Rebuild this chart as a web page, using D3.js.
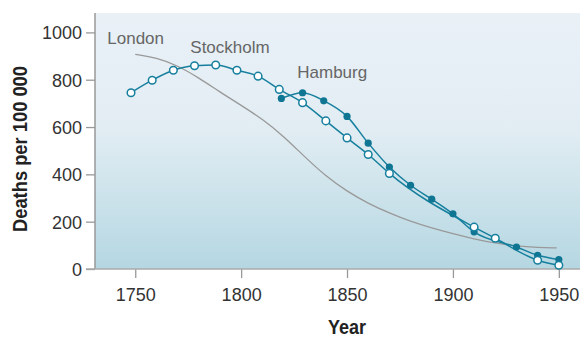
<!DOCTYPE html>
<html>
<head>
<meta charset="utf-8">
<script src="https://d3js.org/d3.v7.min.js"></script>
<style>
  body { margin: 0; background: #fff; }
  svg text { font-family: "Liberation Sans", Arial, sans-serif; }
  .tick text { font-size: 18px; fill: #333; }
  .title { font-weight: bold; fill: #222; }
  .city { font-size: 17px; fill: #666; }
</style>
</head>
<body>
<svg class="chart" width="582" height="338"></svg>
<script>
// Stockholm (open circles)
var stockholmYears = [1748, 1758, 1768, 1778, 1788, 1798, 1808, 1818, 1829, 1840, 1850, 1860, 1870, 1910, 1920, 1940, 1950];
var stockholmDeaths = [745, 798, 840, 859, 862, 840, 815, 759, 703, 626, 554, 484, 404, 177, 130, 37, 16];

// Hamburg (filled dots)
var hamburgYears = [1819, 1829, 1839, 1850, 1860, 1870, 1880, 1890, 1900, 1910, 1930, 1940, 1950];
var hamburgDeaths = [721, 745, 711, 645, 532, 431, 354, 295, 233, 157, 93, 58, 40];

// London (smooth grey curve)
var londonYears = [1750, 1760, 1770, 1780, 1790, 1800, 1810, 1820, 1830, 1840, 1850, 1860, 1870, 1880, 1890, 1900, 1910, 1920, 1930, 1940, 1949];
var londonDeaths = [907, 893, 860, 808, 748, 692, 634, 562, 474, 392, 328, 277, 236, 201, 173, 149, 127, 109, 97, 91, 89];

var xTicks = [1750, 1800, 1850, 1900, 1950];
var yTicks = [0, 200, 400, 600, 800, 1000];

var margin = {top: 13, right: 2, bottom: 69, left: 95},
    width = 582 - margin.left - margin.right,
    height = 338 - margin.top - margin.bottom;

var x = d3.scaleLinear().domain([1731, 1960]).range([0, width]);
var y = d3.scaleLinear().domain([0, 1082]).range([height, 0]);

var svg = d3.select("svg")
  .append("g")
    .attr("transform", "translate(" + margin.left + "," + margin.top + ")");

// background gradient
var grad = d3.select("svg").append("defs").append("linearGradient")
    .attr("id", "bg").attr("x1", 0).attr("y1", 0).attr("x2", 0).attr("y2", 1);
grad.append("stop").attr("offset", "0%").attr("stop-color", "#e9f1f7");
grad.append("stop").attr("offset", "45%").attr("stop-color", "#e2edf3");
grad.append("stop").attr("offset", "100%").attr("stop-color", "#b5d7e2");

svg.append("rect")
    .attr("width", width).attr("height", height)
    .attr("fill", "url(#bg)");

// axes
var xAxis = svg.append("g")
    .attr("transform", "translate(0," + height + ")")
    .call(d3.axisBottom(x).tickValues(xTicks).tickFormat(d3.format("d")).tickSize(9).tickPadding(9));
var yAxis = svg.append("g")
    .call(d3.axisLeft(y).tickValues(yTicks).tickFormat(d3.format("d")).tickSize(9).tickPadding(4));

[xAxis, yAxis].forEach(function(a) {
  a.select(".domain").remove();
  a.selectAll(".tick line").attr("stroke", "#999").attr("stroke-width", 1.3);
});
xAxis.selectAll(".tick text").attr("dy", "0.75em");
yAxis.selectAll(".tick text").attr("dy", "0.36em");

// axis lines
svg.append("line").attr("x1", 0).attr("x2", 0).attr("y1", 0).attr("y2", height)
    .attr("stroke", "#999").attr("stroke-width", 1.5);
svg.append("line").attr("x1", -9).attr("x2", width).attr("y1", height).attr("y2", height)
    .attr("stroke", "#aaa").attr("stroke-width", 1.5);

// axis titles (squeezed to look like a condensed bold face)
svg.append("text").attr("class", "title")
    .attr("x", x(1850)).attr("y", height + 65)
    .attr("text-anchor", "middle").style("font-size", "20px")
    .attr("textLength", 38).attr("lengthAdjust", "spacingAndGlyphs")
    .text("Year");
svg.append("text").attr("class", "title")
    .attr("transform", "translate(" + (26.5 - margin.left) + "," + (149 - margin.top) + ") rotate(-90)")
    .attr("text-anchor", "middle").style("font-size", "21px")
    .attr("textLength", 166).attr("lengthAdjust", "spacingAndGlyphs")
    .text("Deaths per 100 000");

var teal = "#167f9e";

var line = d3.line()
    .x(function(d) { return x(d[0]); })
    .y(function(d) { return y(d[1]); })
    .curve(d3.curveMonotoneX);

var smooth = d3.line()
    .x(function(d) { return x(d[0]); })
    .y(function(d) { return y(d[1]); })
    .curve(d3.curveBasis);

var london = d3.zip(londonYears, londonDeaths);
var stockholm = d3.zip(stockholmYears, stockholmDeaths);
var hamburg = d3.zip(hamburgYears, hamburgDeaths);

svg.append("path").datum(london)
    .attr("d", smooth).attr("fill", "none")
    .attr("stroke", "#999").attr("stroke-width", 1.3);

svg.append("path").datum(hamburg)
    .attr("d", line).attr("fill", "none")
    .attr("stroke", teal).attr("stroke-width", 1.5);
svg.append("path").datum(stockholm)
    .attr("d", line).attr("fill", "none")
    .attr("stroke", teal).attr("stroke-width", 1.5);

svg.selectAll(".ham").data(hamburg)
  .enter().append("circle").attr("class", "ham")
    .attr("cx", function(d) { return x(d[0]); })
    .attr("cy", function(d) { return y(d[1]); })
    .attr("r", 3.6)
    .attr("fill", "#0e7593");

svg.selectAll(".sto").data(stockholm)
  .enter().append("circle").attr("class", "sto")
    .attr("cx", function(d) { return x(d[0]); })
    .attr("cy", function(d) { return y(d[1]); })
    .attr("r", 3.8)
    .attr("fill", "#fff")
    .attr("stroke", teal).attr("stroke-width", 1.5);

// series labels
svg.append("text").attr("class", "city").attr("x", x(1736.8)).attr("y", y(949)).text("London");
svg.append("text").attr("class", "city").attr("x", x(1776)).attr("y", y(912)).text("Stockholm");
svg.append("text").attr("class", "city").attr("x", x(1826.5)).attr("y", y(806)).text("Hamburg");
</script>
</body>
</html>
